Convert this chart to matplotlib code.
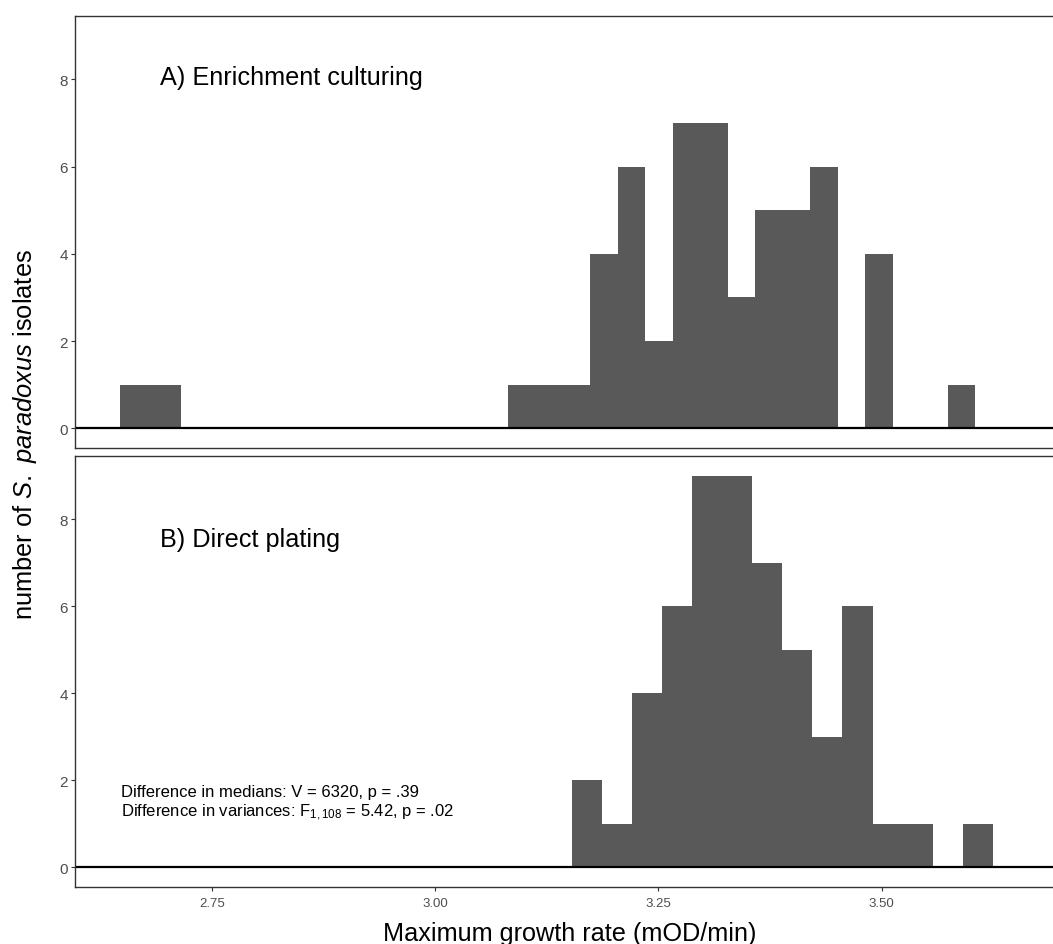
import matplotlib
matplotlib.use('Agg')
import matplotlib.pyplot as plt
import numpy as np

plt.rcParams['font.family'] = ['Liberation Sans', 'DejaVu Sans']
plt.rcParams['mathtext.fontset'] = 'custom'
plt.rcParams['mathtext.rm'] = 'Liberation Sans'
plt.rcParams['mathtext.it'] = 'Liberation Sans:italic'

# histogram bins (edges) and counts
enrich_edges = [2.6464, 2.6807, 2.7149, 3.0810, 3.1118, 3.1426, 3.1735, 3.2043,
                3.2351, 3.2659, 3.2968, 3.3276, 3.3584, 3.3892, 3.4200, 3.4509,
                3.4817, 3.5125, 3.5433, 3.5742, 3.6050]
enrich_counts = [1, 1, 0, 1, 1, 1, 4, 6, 2, 7, 7, 3, 5, 5, 6, 0, 4, 0, 0, 1]

direct_edges = [3.1525, 3.1862, 3.2200, 3.2537, 3.2875, 3.3212, 3.3549, 3.3887,
                3.4224, 3.4562, 3.4899, 3.5237, 3.5574, 3.5912, 3.6249]
direct_counts = [2, 1, 4, 6, 9, 9, 7, 5, 3, 6, 1, 1, 0, 1]

panel_titles = ['A) Enrichment culturing', 'B) Direct plating']
title_y = [7.89, 7.39]
x_ticks = [2.75, 3.00, 3.25, 3.50]
y_ticks = [0, 2, 4, 6, 8]
stats_lines = ['Difference in medians: V = 6320, p = .39',
               'Difference in variances: F$_{1,108}$ = 5.42, p = .02']

W, H = 1053, 945
fig = plt.figure(figsize=(W / 100, H / 100), dpi=100)

def px_axes(left, top, right, bottom):
    return fig.add_axes([left / W, 1 - bottom / H, (right - left) / W, (bottom - top) / H])

ax_a = px_axes(75, 17, 1056, 449)
ax_b = px_axes(75, 457, 1056, 888)

bar_col = '#595959'
frame_col = '#333333'

for ax, edges, counts, title, ty in [(ax_a, enrich_edges, enrich_counts, panel_titles[0], title_y[0]),
                                      (ax_b, direct_edges, direct_counts, panel_titles[1], title_y[1])]:
    edges = np.array(edges)
    ax.bar(edges[:-1], counts, width=np.diff(edges), align='edge',
           color=bar_col, linewidth=0)
    ax.axhline(0, color='black', lw=1.6)
    ax.set_xlim(2.5959, 3.6956)
    ax.set_ylim(-0.45, 9.45)
    ax.set_yticks(y_ticks)
    ax.tick_params(axis='y', labelsize=11, colors=frame_col, labelcolor='#4D4D4D',
                   length=3, width=0.8, pad=2)
    for s in ax.spines.values():
        s.set_color(frame_col)
        s.set_linewidth(1.0)
    ax.text(2.6913, ty, title, fontsize=18.2, va='baseline', ha='left')

ax_a.set_xticks([])
ax_b.set_xticks(x_ticks)
ax_b.set_xticklabels(['%.2f' % t for t in x_ticks])
ax_b.tick_params(axis='x', labelsize=9.5, colors=frame_col, labelcolor='#4D4D4D',
                 length=3, width=0.8, pad=4)

ax_b.text(2.6473, 1.65, stats_lines[0], fontsize=12, va='baseline', ha='left')
ax_b.text(2.6473, 1.18, stats_lines[1], fontsize=12, va='baseline', ha='left')

fig.text(570 / W, 1 - 941 / H, 'Maximum growth rate (mOD/min)', fontsize=18.2,
         ha='center', va='baseline')
fig.text(25 / W, 1 - 435 / H, r'number of $\it{S.\ paradoxus}$ isolates', fontsize=18.4,
         ha='center', va='center', rotation=90)

fig.savefig('out.png', dpi=100)
